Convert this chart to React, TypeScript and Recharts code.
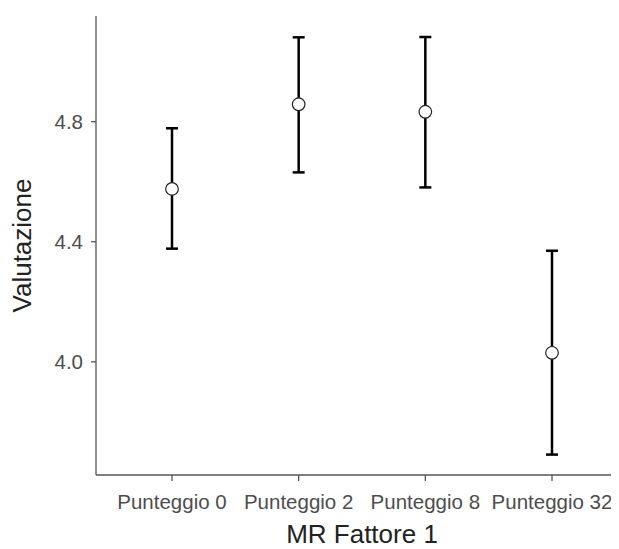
import React from "react";
import { ComposedChart, Scatter, XAxis, YAxis, ErrorBar, Label } from "recharts";

const categories = ["Punteggio 0", "Punteggio 2", "Punteggio 8", "Punteggio 32"];
const means = [4.576, 4.858, 4.833, 4.03];
const lower = [4.377, 4.631, 4.581, 3.691];
const upper = [4.778, 5.081, 5.082, 4.37];
const yTicks = [4.0, 4.4, 4.8];

const data = categories.map((c, i) => ({
  cat: c,
  mean: means[i],
  err: [means[i] - lower[i], upper[i] - means[i]],
}));

const FONT = "'Liberation Sans', Arial, sans-serif";

const Dot = (props: any) => {
  const { cx, cy } = props;
  return <circle cx={cx} cy={cy} r={6.3} fill="#ffffff" stroke="#222222" strokeWidth={1.2} />;
};

export default function App() {
  return (
    <ComposedChart
      width={611}
      height={541}
      data={data}
      margin={{ top: 8, right: 0, bottom: 0, left: 0 }}
      style={{ fontFamily: FONT }}
    >
      <XAxis
        dataKey="cat"
        type="category"
        scale="point"
        padding={{ left: 76, right: 67 }}
        axisLine={{ stroke: "#555555", strokeWidth: 1.3 }}
        tickLine={{ stroke: "#555555", strokeWidth: 1.3 }}
        tickSize={6}
        tick={{ fill: "#4d4d4d", fontSize: 20.5, fontFamily: FONT }}
        tickMargin={13}
        height={74}
        interval={0}
      >
        <Label value="MR Fattore 1" position="insideBottom" offset={6} dx={4.5} style={{ fill: "#222222", fontSize: 26, fontFamily: FONT }} />
      </XAxis>
      <YAxis
        type="number"
        domain={[3.623, 5.152]}
        ticks={yTicks}
        tickFormatter={(v: number) => v.toFixed(1)}
        allowDataOverflow
        axisLine={{ stroke: "#555555", strokeWidth: 1.3 }}
        tickLine={{ stroke: "#555555", strokeWidth: 1.3 }}
        tickSize={5}
        tick={{ fill: "#4d4d4d", fontSize: 20.5, fontFamily: FONT }}
        tickMargin={8}
        width={88}
      >
        <Label value="Valutazione" angle={-90} position="insideLeft" offset={14} style={{ fill: "#222222", fontSize: 26, fontFamily: FONT, textAnchor: "middle" }} />
      </YAxis>
      <Scatter dataKey="mean" isAnimationActive={false} shape={<Dot />}>
        <ErrorBar dataKey="err" direction="y" width={6} stroke="#000000" strokeWidth={2.5} />
      </Scatter>
    </ComposedChart>
  );
}
